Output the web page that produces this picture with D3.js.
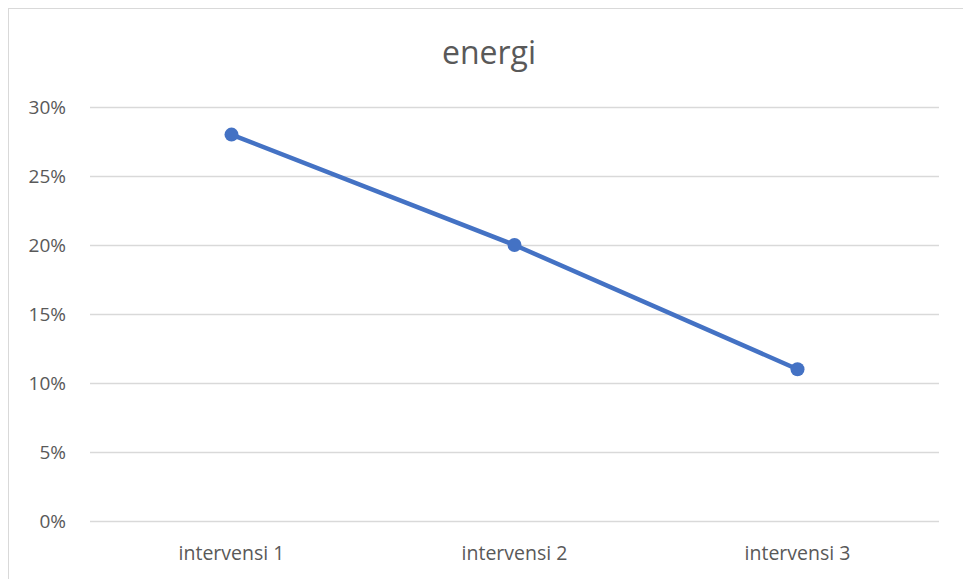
<!DOCTYPE html>
<html><head><meta charset="utf-8">
<script src="https://cdn.jsdelivr.net/npm/d3@7"></script>
<style>body{margin:0;background:#fff;} svg{display:block;font-family:"Open Sans",sans-serif;}</style>
</head><body><svg id="c" width="963" height="579"></svg>
<script>
const categories = ["intervensi 1","intervensi 2","intervensi 3"];
const values = [0.28, 0.20, 0.11];
const yTicks = [0,0.05,0.10,0.15,0.20,0.25,0.30];
const title = "energi";

const svg = d3.select("#c");
svg.append("rect").attr("x",8.5).attr("y",8.5).attr("width",1000).attr("height",1000)
  .attr("fill","#fff").attr("stroke","#d9d9d9").attr("stroke-width",1);
const L=90,R=939,T=107,B=521;
const x = d3.scaleBand().domain(categories).range([L,R]);
const y = d3.scaleLinear().domain([0,0.30]).range([B,T]);
const grid = svg.append("g");
grid.selectAll("line").data(yTicks).join("line")
  .attr("x1",L).attr("x2",R).attr("y1",d=>Math.round(y(d))+0.5).attr("y2",d=>Math.round(y(d))+0.5)
  .attr("stroke","#d9d9d9").attr("stroke-width",1.3);
const yAxis = d3.axisLeft(y).tickValues(yTicks).tickFormat(d3.format(".0%")).tickSize(0).tickPadding(24);
const gy = svg.append("g").attr("transform",`translate(${L},0)`).call(yAxis)
  .attr("font-family","'Open Sans',sans-serif");
gy.select(".domain").remove();
gy.selectAll("text").attr("fill","#595959").style("font-size","19px").attr("dy","0.35em");
const xAxis = d3.axisBottom(x).tickSize(0).tickPadding(25);
const gx = svg.append("g").attr("transform",`translate(0,${B})`).call(xAxis)
  .attr("font-family","'Open Sans',sans-serif");
gx.select(".domain").remove();
gx.selectAll("text").attr("fill","#595959").style("font-size","19.5px");
svg.append("text").attr("x",489).attr("y",64).attr("text-anchor","middle")
  .attr("fill","#595959").style("font-size","32px").text(title);
const line = d3.line().x((d,i)=>x(categories[i])+x.bandwidth()/2).y(d=>y(d));
svg.append("path").datum(values).attr("d",line).attr("fill","none")
  .attr("stroke","#4472C4").attr("stroke-width",4.5).attr("stroke-linecap","round");
svg.selectAll("circle.m").data(values).join("circle").attr("class","m")
  .attr("cx",(d,i)=>x(categories[i])+x.bandwidth()/2).attr("cy",d=>y(d)).attr("r",7)
  .attr("fill","#4472C4");
</script></body></html>
